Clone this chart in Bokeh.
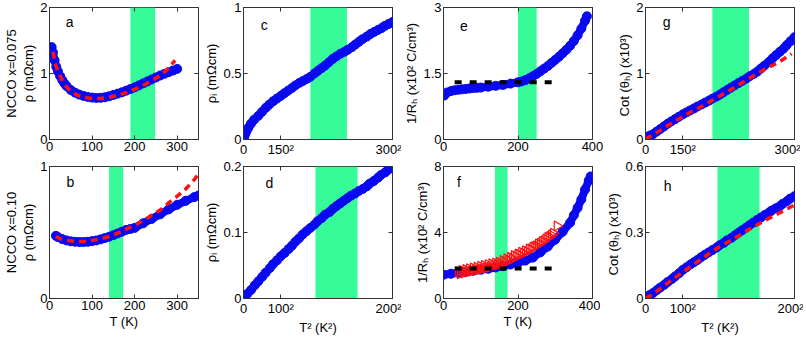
import numpy as np
from bokeh.plotting import figure
from bokeh.layouts import gridplot
from bokeh.models import Range1d, FixedTicker, LinearAxis, BoxAnnotation, Label
from bokeh.embed import file_html
from bokeh.resources import INLINE

# ---------------- data ----------------
# panel a: NCCO x=0.075, rho vs T
a_T = [5, 8, 12, 16, 20, 25, 30, 35, 40, 50, 60, 70, 80, 90, 100, 110, 120, 130, 140, 150,
       160, 170, 180, 190, 200, 210, 220, 230, 240, 250, 260, 270, 280, 290, 300]
a_rho = [1.40, 1.32, 1.20, 1.10, 1.03, 0.96, 0.90, 0.85, 0.81, 0.75, 0.71, 0.68, 0.66, 0.645, 0.635,
         0.63, 0.632, 0.64, 0.655, 0.675, 0.695, 0.715, 0.74, 0.765, 0.79, 0.82, 0.85, 0.88, 0.91,
         0.94, 0.97, 0.995, 1.02, 1.045, 1.07]
a_fit_T = [8, 12, 16, 20, 30, 40, 50, 60, 70, 80, 100, 120, 140, 160, 180, 200, 220, 240, 260, 280, 295]
a_fit = [1.33, 1.20, 1.10, 1.03, 0.90, 0.80, 0.73, 0.69, 0.66, 0.64, 0.62, 0.62, 0.64, 0.67, 0.71,
         0.76, 0.82, 0.89, 0.97, 1.08, 1.20]
a_band = [190, 248]

# panel b: NCCO x=0.10, rho vs T
b_T = [15, 20, 30, 40, 50, 60, 70, 80, 90, 100, 110, 120, 130, 140, 150, 160, 170, 180, 190,
       200, 220, 240, 260, 280, 300, 320, 340, 350]
b_rho = [0.475, 0.465, 0.45, 0.44, 0.433, 0.43, 0.428, 0.428, 0.43, 0.435, 0.44, 0.448, 0.458,
         0.468, 0.48, 0.493, 0.506, 0.52, 0.527, 0.535, 0.57, 0.603, 0.638, 0.675, 0.71, 0.74,
         0.768, 0.78]
b_fit_T = [15, 25, 40, 60, 80, 100, 120, 140, 160, 180, 200, 220, 240, 260, 280, 300, 320, 340, 350]
b_fit = [0.47, 0.452, 0.44, 0.432, 0.432, 0.44, 0.452, 0.47, 0.495, 0.525, 0.555, 0.59, 0.63,
         0.67, 0.725, 0.775, 0.83, 0.90, 0.945]
b_band = [140, 173]

# panel c: rho_i vs T^2 (x=0.075)
c_T = [0, 5, 10, 16, 24, 30, 42, 55, 67, 80, 95, 106, 116, 125, 134, 142, 150, 157, 164, 171,
       177, 184, 190, 196, 201, 207, 212, 217, 222, 227, 232, 237, 242, 247, 251, 256, 260, 264,
       268, 273, 277, 281, 285, 289, 292, 296, 300]
c_rho = [0.05, 0.04, 0.02, 0.015, 0.03, 0.04, 0.06, 0.09, 0.12, 0.15, 0.18, 0.21, 0.24, 0.265,
         0.29, 0.31, 0.33, 0.35, 0.37, 0.39, 0.41, 0.43, 0.445, 0.46, 0.475, 0.50, 0.52, 0.54,
         0.56, 0.585, 0.61, 0.63, 0.65, 0.665, 0.68, 0.70, 0.72, 0.74, 0.76, 0.78, 0.80, 0.815,
         0.83, 0.845, 0.86, 0.875, 0.89]
c_band = [201, 250]

# panel d: rho_i vs T^2 (x=0.10)
d_T = [5, 20, 32, 45, 55, 63, 71, 77, 84, 89, 95, 100, 105, 110, 114, 118, 122, 126, 130, 134,
       138, 141, 145, 148, 152, 155, 158, 161, 164, 167, 170, 173, 176, 179, 182, 184, 187, 190,
       192, 195, 197, 200]
d_rho = [0.0, 0.003, 0.007, 0.013, 0.02, 0.026, 0.033, 0.039, 0.046, 0.052, 0.058, 0.064, 0.069,
         0.075, 0.08, 0.086, 0.091, 0.097, 0.102, 0.107, 0.112, 0.117, 0.122, 0.127, 0.131,
         0.136, 0.14, 0.144, 0.148, 0.152, 0.156, 0.159, 0.163, 0.166, 0.17, 0.174, 0.178,
         0.183, 0.187, 0.191, 0.195, 0.2]
d_band = [139, 175]

# panel e: 1/R_H vs T (x=0.075)
e_T = [2, 5, 10, 20, 30, 40, 50, 60, 70, 80, 90, 100, 120, 140, 160, 180, 200, 210, 220, 230,
       240, 250, 260, 270, 280, 290, 300, 310, 320, 330, 340, 350, 360, 370, 380, 385]
e_RH = [1.0, 1.04, 1.07, 1.10, 1.12, 1.13, 1.14, 1.15, 1.16, 1.17, 1.175, 1.18, 1.20, 1.22, 1.24,
        1.27, 1.30, 1.32, 1.35, 1.39, 1.44, 1.49, 1.55, 1.61, 1.67, 1.74, 1.81, 1.88, 1.96,
        2.04, 2.13, 2.24, 2.37, 2.52, 2.70, 2.80]
e_flat_T = [30, 300]
e_flat = [1.30, 1.30]
e_band = [200, 250]

# panel f: 1/R_H vs T (x=0.10)
f_T = [0, 20, 40, 60, 80, 100, 120, 140, 160, 180, 200, 220, 240, 260, 280, 300, 320, 340, 350,
       360, 370, 380, 390, 395]
f_RH = [1.44, 1.50, 1.56, 1.62, 1.68, 1.74, 1.80, 1.88, 1.96, 2.06, 2.17, 2.30, 2.48, 2.80, 3.15,
        3.57, 4.05, 4.60, 5.05, 5.50, 6.00, 6.60, 7.15, 7.40]
f_tri_T = [40, 45, 50, 55, 60, 65, 70, 75, 80, 85, 90, 95, 100, 105, 110, 115, 120, 125, 130,
           135, 140, 145, 150, 155, 160, 165, 170, 175, 180, 185, 190, 195, 200, 205, 210, 215,
           220, 225, 230, 235, 240, 245, 250, 255, 260, 265, 270, 275, 280, 285, 290, 295, 305]
f_tri = [1.60, 1.50, 1.70, 1.55, 1.75, 1.60, 1.80, 1.65, 1.85, 1.70, 1.90, 1.75, 1.95, 1.80, 2.00,
         1.85, 2.05, 1.90, 2.10, 2.00, 2.15, 2.05, 2.20, 2.10, 2.30, 2.20, 2.40, 2.30, 2.50, 2.40,
         2.60, 2.55, 2.70, 2.65, 2.80, 2.75, 2.90, 2.85, 3.00, 3.00, 3.10, 3.15, 3.20, 3.30,
         3.35, 3.45, 3.50, 3.60, 3.70, 3.75, 3.85, 3.95, 4.40]
f_flat_T = [30, 300]
f_flat = [1.82, 1.82]
f_band = [138, 172]

# panel g: cot(theta_H) vs T^2 (x=0.075)
g_T = [3, 30, 52, 67, 82, 95, 106, 116, 125, 134, 142, 150, 157, 164, 171, 177, 184, 190, 196,
       201, 207, 212, 217, 222, 227, 232, 237, 242, 247, 251, 256, 260, 264, 268, 273, 277, 281,
       285, 289, 292, 296, 300]
g_cot = [0.03, 0.04, 0.06, 0.08, 0.12, 0.16, 0.20, 0.24, 0.275, 0.31, 0.345, 0.38, 0.41, 0.44,
         0.47, 0.50, 0.53, 0.56, 0.59, 0.62, 0.65, 0.68, 0.715, 0.75, 0.785, 0.82, 0.855, 0.89,
         0.925, 0.96, 0.995, 1.03, 1.075, 1.12, 1.175, 1.23, 1.28, 1.33, 1.38, 1.43, 1.49, 1.55]
g_fit_T = [10, 30, 67, 95, 134, 164, 190, 212, 232, 251, 268, 285, 297]
g_fit = [0.0, 0.02, 0.07, 0.14, 0.28, 0.41, 0.53, 0.66, 0.79, 0.93, 1.06, 1.18, 1.30]
g_band = [201, 250]

# panel h: cot(theta_H) vs T^2 (x=0.10)
h_T = [3, 20, 35, 45, 55, 63, 71, 77, 84, 89, 95, 100, 105, 110, 114, 118, 122, 126, 130, 134,
       138, 141, 145, 148, 152, 155, 158, 161, 164, 167, 170, 173, 176, 179, 182, 184, 187, 190,
       192, 195, 197, 200]
h_cot = [0.005, 0.008, 0.017, 0.025, 0.038, 0.05, 0.062, 0.075, 0.088, 0.1, 0.115, 0.13, 0.142,
         0.155, 0.165, 0.175, 0.187, 0.198, 0.209, 0.22, 0.231, 0.242, 0.253, 0.265, 0.276,
         0.288, 0.299, 0.31, 0.321, 0.333, 0.345, 0.357, 0.368, 0.38, 0.39, 0.4, 0.41, 0.42,
         0.431, 0.443, 0.454, 0.465]
h_fit_T = [5, 45, 63, 89, 110, 126, 141, 155, 167, 179, 190, 200]
h_fit = [0.0, 0.02, 0.045, 0.095, 0.145, 0.19, 0.235, 0.275, 0.315, 0.355, 0.39, 0.425]
h_band = [139, 175]

# axis ticks / labels
T_ticks = [0, 100, 200, 300]
T_ticks_400 = [0, 200, 400]
T2_ticks_300 = [0, 150, 300]
T2_ticks_200 = [0, 100, 200]

# ---------------- style ----------------
FONT = "Liberation Sans"
FS = "13px"
BLUE = "#0a0af0"
RED = "#ff1010"
GREEN = "#36fb98"
AXC = "#333333"
FW, FH = 149, 132


def sq(vals):
    return [v * v for v in vals]


def box_axis(ticks):
    # tick marks only (inward), no tick labels drawn
    return LinearAxis(ticker=FixedTicker(ticks=ticks), major_label_text_font_size="1px",
                      major_label_text_color=None, major_label_standoff=0,
                      major_tick_in=4, major_tick_out=0, minor_tick_line_color=None,
                      axis_line_color=None, major_tick_line_color=AXC)


def make(xr, yr, xticks, xlabels, yticks, ylabel, xlabel, band, L, R, T, B, outer=None):
    p = figure(frame_width=FW, frame_height=FH, x_range=Range1d(*xr), y_range=Range1d(*yr),
               output_backend="svg", toolbar_location=None,
               min_border_left=L, min_border_right=R, min_border_top=T, min_border_bottom=B)
    p.grid.visible = False
    p.outline_line_color = AXC
    p.outline_line_width = 1
    p.background_fill_color = "white"
    p.border_fill_color = "white"

    xa = p.below[0]
    ya = p.left[0]
    for ax in (xa, ya):
        ax.major_tick_in = 4
        ax.major_tick_out = 0
        ax.minor_tick_line_color = None
        ax.axis_line_color = AXC
        ax.major_tick_line_color = AXC
        ax.major_label_text_font = FONT
        ax.major_label_text_font_size = FS
        ax.major_label_text_color = "black"
        ax.major_label_standoff = 2
        ax.axis_label_text_font = FONT
        ax.axis_label_text_font_size = FS
        ax.axis_label_text_font_style = "normal"
        ax.axis_label_text_color = "black"
        ax.axis_label_standoff = 1
    xa.ticker = FixedTicker(ticks=xticks)
    xa.major_label_overrides = {t: s for t, s in zip(xticks, xlabels)}
    ya.ticker = FixedTicker(ticks=yticks)
    ya.major_label_overrides = {t: (str(t) if t != int(t) else str(int(t))) for t in yticks}
    ya.axis_label = ylabel
    if xlabel:
        xa.axis_label = xlabel

    p.add_layout(box_axis(xticks), "above")
    p.add_layout(box_axis(yticks), "right")
    if outer:
        ax2 = LinearAxis(axis_label=outer, ticker=FixedTicker(ticks=[]), major_tick_line_color=None,
                         minor_tick_line_color=None, axis_line_color=None, major_label_standoff=0,
                         axis_label_standoff=0, axis_label_text_font=FONT, axis_label_text_font_size=FS,
                         axis_label_text_font_style="normal", axis_label_text_color="black")
        p.add_layout(ax2, "left")

    p.add_layout(BoxAnnotation(left=band[0], right=band[1], fill_color=GREEN, fill_alpha=1.0,
                               line_color=None, level="underlay"))
    return p


def letter(p, x, y, t):
    p.add_layout(Label(x=x, y=y, text=t, text_font=FONT, text_font_size="14px", text_color="black"))


def blue(p, x, y):
    p.line(x, y, line_color=BLUE, line_width=8, line_cap="round", line_join="round")
    p.scatter(x, y, size=9, fill_color=BLUE, line_color=BLUE)


def reddash(p, x, y):
    p.line(x, y, line_color=RED, line_width=3.5, line_dash="7 5")


TL = ["0", "100", "200", "300"]
T4L = ["0", "200", "400"]
S3L = ["0", "150²", "300²"]
S2L = ["0", "100²", "200²"]

# column borders
C1 = (43, 3)
C2 = (39, 9)
C3 = (39, 11)
C4 = (39, 9)
R1 = (7, 17)
R2 = (7, 33)

rho_lab = "ρ (mΩcm)"
rhoi_lab = "ρᵢ (mΩcm)"
rh_lab = "1/Rₕ (x10² C/cm³)"
cot_lab = "Cot (θₕ)  (x10³)"

# a
pa = make((0, 350), (0, 2), T_ticks, TL, [0, 1, 2], rho_lab, None, a_band, C1[0], C1[1], R1[0], R1[1],
          outer="NCCO x=0.075")
blue(pa, a_T, a_rho)
reddash(pa, a_fit_T, a_fit)
letter(pa, 38, 1.655, "a")

# b
pb = make((0, 350), (0, 1), T_ticks, TL, [0, 1], rho_lab, "T (K)", b_band, C1[0], C1[1], R2[0], R2[1],
          outer="NCCO x=0.10")
blue(pb, b_T, b_rho)
reddash(pb, b_fit_T, b_fit)
letter(pb, 40, 0.82, "b")

# c
pc = make((0, 90000), (0, 1), sq(T2_ticks_300), S3L, [0, 0.5, 1], rhoi_lab, None, sq(c_band),
          C2[0], C2[1], R1[0], R1[1])
blue(pc, sq(c_T), c_rho)
letter(pc, 10400, 0.806, "c")

# d
pd_ = make((0, 40000), (0, 0.2), sq(T2_ticks_200), S2L, [0, 0.1, 0.2], rhoi_lab, "T² (K²)", sq(d_band),
           C2[0], C2[1], R2[0], R2[1])
blue(pd_, sq(d_T), d_rho)
letter(pd_, 5900, 0.1626, "d")

# e
pe = make((0, 400), (0, 3), T_ticks_400, T4L, [0, 1.5, 3], rh_lab, None, e_band, C3[0], C3[1], R1[0], R1[1])
blue(pe, e_T, e_RH)
pe.line(e_flat_T, e_flat, line_color="black", line_width=4, line_dash="7 8")
letter(pe, 44, 2.46, "e")

# f
pf = make((0, 400), (0, 8), T_ticks_400, T4L, [0, 4, 8], rh_lab, "T (K)", f_band, C3[0], C3[1], R2[0], R2[1])
blue(pf, f_T, f_RH)
pf.scatter(f_tri_T, f_tri, marker="triangle", angle=-np.pi / 2, size=10, fill_color=None,
           line_color=RED, line_width=1.2)
pf.line(f_flat_T, f_flat, line_color="black", line_width=4, line_dash="7 8")
letter(pf, 36, 6.56, "f")

# g
pg = make((0, 90000), (0, 2), sq(T2_ticks_300), S3L, [0, 1, 2], cot_lab, None, sq(g_band),
          C4[0], C4[1], R1[0], R1[1])
blue(pg, sq(g_T), g_cot)
reddash(pg, sq(g_fit_T), g_fit)
letter(pg, 10450, 1.66, "g")

# h
ph = make((0, 40000), (0, 0.6), sq(T2_ticks_200), S2L, [0, 0.3, 0.6], cot_lab, "T² (K²)", sq(h_band),
          C4[0], C4[1], R2[0], R2[1])
blue(ph, sq(h_T), h_cot)
reddash(ph, sq(h_fit_T), h_fit)
letter(ph, 4870, 0.475, "h")

grid = gridplot([[pa, pc, pe, pg], [pb, pd_, pf, ph]], toolbar_location=None)

open("out.html", "w").write(file_html(grid, INLINE))
